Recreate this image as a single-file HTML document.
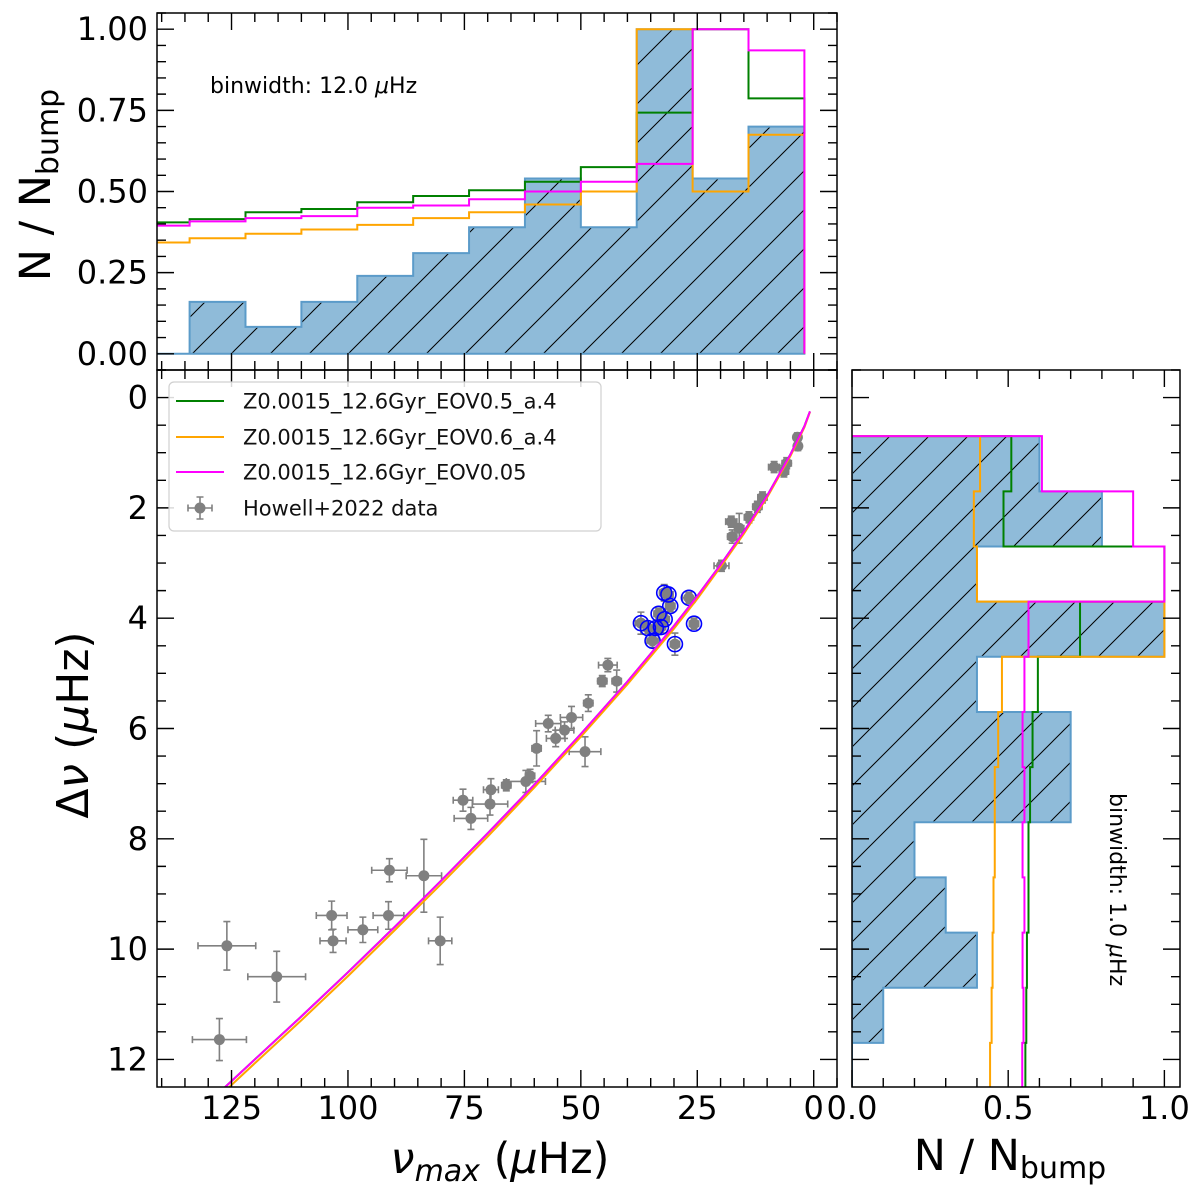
<!DOCTYPE html>
<html><head><meta charset="utf-8">
<style>
html,body{margin:0;padding:0;background:#fff;}
svg{display:block;font-family:"DejaVu Sans","Liberation Sans",sans-serif;}
</style></head>
<body>
<svg id="chart" xmlns="http://www.w3.org/2000/svg" width="1200" height="1200" viewBox="0 0 1200 1200">
<defs>
<pattern id="hatch" patternUnits="userSpaceOnUse" width="39" height="39">
<path d="M-10,10 L10,-10 M0,39 L39,0 M29,49 L49,29" stroke="#000" stroke-width="1"/>
</pattern>
<clipPath id="clipMain"><rect x="157" y="370" width="680" height="717"/></clipPath>
<clipPath id="clipTop"><rect x="157" y="13" width="680" height="357"/></clipPath>
<clipPath id="clipRight"><rect x="852" y="370" width="328" height="717"/></clipPath>
</defs>
<rect x="0" y="0" width="1200" height="1200" fill="#fff"/>
</svg>
<script>
// ---------------- DATA ----------------
// main scatter (Howell+2022)
const nuMax    = [126.0,115.3,127.6,103.5,103.2,96.8,91.3,91.1,83.7,80.2,75.3,73.6,69.5,69.3,66.0,61.8,60.9,59.5,57.0,55.4,53.5,52.0,48.4,49.1,45.4,44.2,42.3,3.5,3.4,8.5,6.4,5.8,11.0,12.1,13.9,17.7,17.5,16.0,19.8,32.1,31.2,26.8,30.8,33.3,37.1,32.0,35.6,33.9,32.8,25.7,34.6,29.8];
const dNu      = [9.94,10.5,11.64,9.39,9.85,9.65,9.39,8.57,8.67,9.85,7.30,7.63,7.37,7.11,7.03,6.96,6.86,6.36,5.91,6.18,6.03,5.80,5.54,6.42,5.14,4.85,5.14,0.72,0.88,1.26,1.34,1.19,1.81,1.98,2.17,2.25,2.52,2.37,3.05,3.54,3.57,3.63,3.78,3.92,4.09,4.02,4.18,4.18,4.16,4.10,4.41,4.47];
const nuMaxErr = [6.2,6.2,5.8,3.3,2.8,3.2,3.3,3.8,3.8,2.5,2.1,3.6,3.8,1.6,1.0,4.2,1.0,1.0,2.7,2.0,2.0,2.4,1.0,3.4,1.0,2.0,1.0,0.8,0.8,1.2,1.0,1.0,1.0,1.0,1.0,1.2,1.0,1.0,1.6,1.0,1.0,1.4,1.0,1.0,1.2,1.0,1.0,1.0,1.0,1.0,1.2,1.0];
const dNuErr   = [0.44,0.46,0.38,0.26,0.21,0.23,0.25,0.21,0.66,0.43,0.20,0.20,0.20,0.20,0.10,0.20,0.12,0.32,0.15,0.15,0.15,0.20,0.15,0.27,0.10,0.12,0.20,0.08,0.08,0.10,0.10,0.10,0.10,0.10,0.10,0.10,0.12,0.27,0.10,0.15,0.12,0.10,0.10,0.10,0.20,0.10,0.10,0.10,0.10,0.10,0.12,0.20];
const circled  = [0,0,0,0,0,0,0,0,0,0,0,0,0,0,0,0,0,0,0,0,0,0,0,0,0,0,0,0,0,0,0,0,0,0,0,0,0,0,0,1,1,1,1,1,1,1,1,1,1,1,1,1];
// model tracks (numax, dnu samples)
const trackNu    = [0.8,2,5,10,15,20,25,30,40,50,60,70,80,90,100,110,120,127];
const trackGreen = [0.25,0.52,1.03,1.78,2.43,3.03,3.6,4.14,5.15,6.1,7.02,7.9,8.76,9.6,10.42,11.22,12.0,12.55];
const trackOrange= [0.26,0.54,1.06,1.81,2.47,3.07,3.65,4.19,5.2,6.15,7.07,7.96,8.82,9.66,10.49,11.29,12.07,12.62];
const trackMagenta=[0.25,0.52,1.03,1.78,2.43,3.03,3.6,4.14,5.15,6.1,7.02,7.9,8.76,9.6,10.42,11.22,12.0,12.55];
// top histogram (numax bins, 12 muHz)
const topEdges   = [146,134,122,110,98,86,74,62,50,38,26,14,2];
const topData    = [0,0.16,0.083,0.16,0.24,0.31,0.39,0.54,0.39,1.0,0.54,0.70];
const topGreen   = [0.405,0.415,0.436,0.446,0.467,0.486,0.504,0.53,0.575,0.743,1.0,0.787];
const topOrange  = [0.343,0.356,0.37,0.383,0.397,0.418,0.436,0.46,0.5,1.0,0.5,0.675];
const topMagenta = [0.395,0.408,0.418,0.424,0.45,0.457,0.476,0.5,0.53,0.585,1.0,0.935];
// right histogram (dnu bins, 1 muHz)
const rightEdges   = [0.7,1.7,2.7,3.7,4.7,5.7,6.7,7.7,8.7,9.7,10.7,11.7,12.7];
const rightData    = [0.6,0.8,0.4,1.0,0.4,0.7,0.7,0.2,0.3,0.4,0.1,0.0];
const rightGreen   = [0.51,0.485,1.0,0.73,0.595,0.578,0.57,0.565,0.565,0.56,0.558,0.555];
const rightOrange  = [0.41,0.39,0.4,1.0,0.48,0.468,0.457,0.457,0.453,0.45,0.447,0.442];
const rightMagenta = [0.608,0.9,1.0,0.565,0.552,0.546,0.552,0.546,0.552,0.546,0.549,0.545];
// tick labels
const mainXTicks = [125,100,75,50,25,0];
const mainYTicks = [0,2,4,6,8,10,12];
const topYTicks  = ["0.00","0.25","0.50","0.75","1.00"];
const rightXTicks= ["0.0","0.5","1.0"];

// ---------------- SCALES ----------------
const MX0=157, MX1=837, MY0=370, MY1=1087, TY0=13, RX0=852, RX1=1180;
function mx(v){return MX0+(141-v)*(MX1-MX0)/146;}
function my(d){return MY0+(d+0.5)*(MY1-MY0)/13;}
function ty(n){return MY0-(n+0.05)*(MY0-TY0)/1.1;}
function rx(n){return RX0+n*(RX1-RX0)/1.05;}

const NS="http://www.w3.org/2000/svg";
const svg=document.getElementById('chart');
function mk(tag,attrs,parent){const e=document.createElementNS(NS,tag);for(const k in attrs)e.setAttribute(k,attrs[k]);(parent||svg).appendChild(e);return e;}

// ---------------- GROUPS ----------------
const gTop=mk('g',{'clip-path':'url(#clipTop)'});


const gMain=mk('g',{'clip-path':'url(#clipMain)'});


const gRight=mk('g',{'clip-path':'url(#clipRight)'});



// ---------------- TOP HIST ----------------
function topStep(vals){
  let d='M'+mx(topEdges[0])+','+ty(0);
  for(let i=0;i<vals.length;i++){d+=' L'+mx(topEdges[i])+','+ty(vals[i])+' L'+mx(topEdges[i+1])+','+ty(vals[i]);}
  d+=' L'+mx(topEdges[topEdges.length-1])+','+ty(0);
  return d;
}
let p=mk('path',{d:topStep(topData)+' Z',fill:'#8fbbd9',stroke:'none'},gTop);


p=mk('path',{d:topStep(topData)+' Z',fill:'url(#hatch)',stroke:'#5b9bc9','stroke-width':2},gTop);


p=mk('path',{d:topStep(topGreen),fill:'none',stroke:'#008000','stroke-width':2},gTop);


p=mk('path',{d:topStep(topOrange),fill:'none',stroke:'#ffa500','stroke-width':2},gTop);


p=mk('path',{d:topStep(topMagenta),fill:'none',stroke:'#ff00ff','stroke-width':2},gTop);



// ---------------- RIGHT HIST ----------------
function rightStep(vals){
  let d='M'+rx(0)+','+my(rightEdges[0]);
  for(let i=0;i<vals.length;i++){d+=' L'+rx(vals[i])+','+my(rightEdges[i])+' L'+rx(vals[i])+','+my(rightEdges[i+1]);}
  d+=' L'+rx(0)+','+my(rightEdges[rightEdges.length-1]);
  return d;
}
p=mk('path',{d:rightStep(rightData)+' Z',fill:'#8fbbd9',stroke:'none'},gRight);


p=mk('path',{d:rightStep(rightData)+' Z',fill:'url(#hatch)',stroke:'#5b9bc9','stroke-width':2},gRight);


p=mk('path',{d:rightStep(rightGreen),fill:'none',stroke:'#008000','stroke-width':2},gRight);


p=mk('path',{d:rightStep(rightOrange),fill:'none',stroke:'#ffa500','stroke-width':2},gRight);


p=mk('path',{d:rightStep(rightMagenta),fill:'none',stroke:'#ff00ff','stroke-width':2},gRight);



// ---------------- MAIN SCATTER ----------------
for(let i=0;i<nuMax.length;i++){
  const x=mx(nuMax[i]), y=my(dNu[i]);
  const g=mk('g',{},gMain);
  
  
  const x0=mx(nuMax[i]+nuMaxErr[i]), x1=mx(nuMax[i]-nuMaxErr[i]);
  const y0=my(dNu[i]-dNuErr[i]), y1=my(dNu[i]+dNuErr[i]);
  mk('path',{d:`M${x0},${y} L${x1},${y} M${x0},${y-3.5} L${x0},${y+3.5} M${x1},${y-3.5} L${x1},${y+3.5} M${x},${y0} L${x},${y1} M${x-3.5},${y0} L${x+3.5},${y0} M${x-3.5},${y1} L${x+3.5},${y1}`,stroke:'#808080','stroke-width':1.6,fill:'none'},g);
  mk('circle',{cx:x,cy:y,r:5.5,fill:'#808080'},g);
}
for(let i=0;i<nuMax.length;i++){
  if(!circled[i])continue;
  const c=mk('circle',{cx:mx(nuMax[i]),cy:my(dNu[i]),r:7.5,fill:'none',stroke:'#0000ff','stroke-width':1.6},gMain);
  
  
}
function trackPath(arr){return trackNu.map((v,i)=>(i?'L':'M')+mx(v)+','+my(arr[i])).join(' ');}
p=mk('path',{d:trackPath(trackGreen),fill:'none',stroke:'#008000','stroke-width':2},gMain);


p=mk('path',{d:trackPath(trackOrange),fill:'none',stroke:'#ffa500','stroke-width':2},gMain);


p=mk('path',{d:trackPath(trackMagenta),fill:'none',stroke:'#ff00ff','stroke-width':2},gMain);



// ---------------- AXES / TICKS ----------------
function frame(x0,y0,x1,y1,name){
  const r=mk('rect',{x:x0,y:y0,width:x1-x0,height:y1-y0,fill:'none',stroke:'#000','stroke-width':1.5});
  
  
}
function ticks(name,x0,y0,x1,y1,xs,xMaj,ys,yMaj){
  let d='';
  xs.forEach((v,i)=>{const L=xMaj[i]?17:9;d+=`M${v},${y1} L${v},${y1-L} M${v},${y0} L${v},${y0+L} `;});
  ys.forEach((v,i)=>{const L=yMaj[i]?17:9;d+=`M${x0},${v} L${x0+L},${v} M${x1},${v} L${x1-L},${v} `;});
  const t=mk('path',{d:d,stroke:'#000','stroke-width':1.4,fill:'none'});
  
  
}
// main
let xs=[],xm=[];for(let v=140;v>=-5;v-=5){xs.push(mx(v));xm.push(v%25===0);}
let ys=[],ymj=[];for(let k=0;k<=25;k++){const d=-0.5+k*0.5;ys.push(my(d));ymj.push(Math.abs(d%2)<1e-6);}
ticks('main-ticks',MX0,MY0,MX1,MY1,xs,xm,ys,ymj);
// top
let tys=[],tym=[];for(let k=-1;k<=21;k++){const n=k*0.05;tys.push(ty(n));tym.push(k%5===0);}
ticks('top-ticks',MX0,TY0,MX1,MY0,xs,xm,tys,tym);
// right
let rxs=[],rxm=[];for(let k=0;k<=10;k++){rxs.push(rx(k*0.1));rxm.push(k%5===0);}
ticks('right-ticks',RX0,MY0,RX1,MY1,rxs,rxm,ys,ymj);
frame(MX0,TY0,MX1,MY0,'top-panel-frame');
frame(MX0,MY0,MX1,MY1,'main-panel-frame');
frame(RX0,MY0,RX1,MY1,'right-panel-frame');

function txt(s,attrs,name){const t=mk('text',attrs);t.textContent=s;return t;}
mainXTicks.forEach(v=>{txt(String(v),{x:mx(v),y:1119,'font-size':32,'text-anchor':'middle'},'x-tick-label');});
mainYTicks.forEach(v=>{txt(String(v),{x:148,y:my(v)+11,'font-size':32,'text-anchor':'end'},'y-tick-label');});
topYTicks.forEach(s=>{txt(s,{x:148,y:ty(parseFloat(s))+11,'font-size':32,'text-anchor':'end'},'top-y-tick-label');});
rightXTicks.forEach(s=>{txt(s,{x:rx(parseFloat(s)),y:1119,'font-size':32,'text-anchor':'middle'},'right-x-tick-label');});

// axis labels
let t=mk('text',{x:500,y:1173,'font-size':43,'text-anchor':'middle'});


t.innerHTML='<tspan font-style="italic">ν</tspan><tspan font-style="italic" font-size="30" dy="8">max</tspan><tspan dy="-8"> (</tspan><tspan font-style="italic">μ</tspan>Hz)';
t=mk('text',{x:1010,y:1170,'font-size':43,'text-anchor':'middle'});


t.innerHTML='N / N<tspan font-size="30" dy="8">bump</tspan>';
t=mk('text',{x:0,y:0,'font-size':44,'text-anchor':'middle',transform:'translate(88,725) rotate(-90)'});


t.innerHTML='Δ<tspan font-style="italic">ν</tspan> (<tspan font-style="italic">μ</tspan>Hz)';
t=mk('text',{x:0,y:0,'font-size':43,'text-anchor':'middle',transform:'translate(50,185) rotate(-90)'});


t.innerHTML='N / N<tspan font-size="30" dy="8">bump</tspan>';

t=mk('text',{x:210,y:93,'font-size':22});


t.innerHTML='binwidth: 12.0 <tspan font-style="italic">μ</tspan>Hz';
t=mk('text',{x:0,y:0,'font-size':22,transform:'translate(1110,793) rotate(90)'});


t.innerHTML='binwidth: 1.0 <tspan font-style="italic">μ</tspan>Hz';

// legend
const lg=mk('g',{});


mk('rect',{x:169,y:382,width:432,height:149,rx:5,fill:'#fff','fill-opacity':0.85,stroke:'#d0d0d0','stroke-width':1.2},lg);
const legNames=['Z0.0015_12.6Gyr_EOV0.5_a.4','Z0.0015_12.6Gyr_EOV0.6_a.4','Z0.0015_12.6Gyr_EOV0.05','Howell+2022 data'];
const legColors=['#008000','#ffa500','#ff00ff','#808080'];
const legY=[401,437,472,508];
for(let i=0;i<4;i++){
  const e=mk('g',{},lg);
  
  
  if(i<3){mk('line',{x1:176,x2:224,y1:legY[i],y2:legY[i],stroke:legColors[i],'stroke-width':2},e);}
  else{mk('path',{d:`M188,${legY[i]} L212,${legY[i]} M188,${legY[i]-3.5} L188,${legY[i]+3.5} M212,${legY[i]-3.5} L212,${legY[i]+3.5} M200,${legY[i]-11} L200,${legY[i]+11} M196.5,${legY[i]-11} L203.5,${legY[i]-11} M196.5,${legY[i]+11} L203.5,${legY[i]+11}`,stroke:'#808080','stroke-width':1.6,fill:'none'},e);mk('circle',{cx:200,cy:legY[i],r:5.5,fill:'#808080'},e);}
  const tt=mk('text',{x:243,y:legY[i]+7.5,'font-size':21,fill:'#111'},e);
  tt.textContent=legNames[i];
}
</script>
</body></html>
